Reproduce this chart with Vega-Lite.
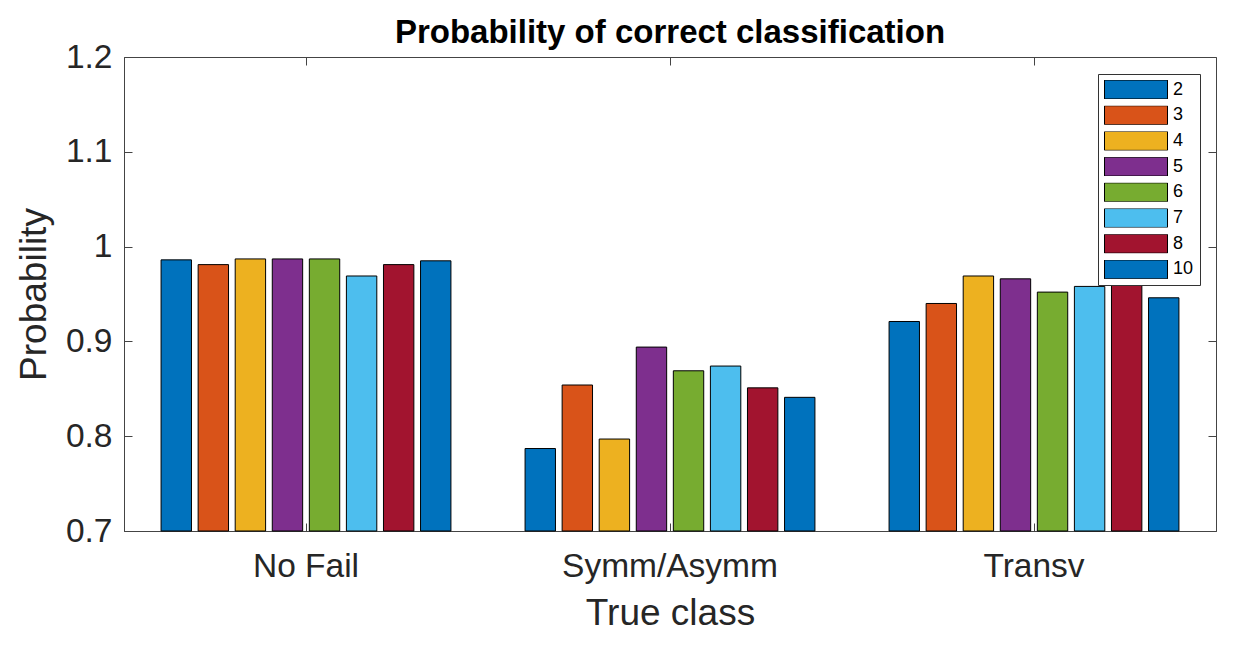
{
  "$schema": "https://vega.github.io/schema/vega-lite/v6.json",
  "width": 1092,
  "height": 474,
  "autosize": {"type": "none"},
  "padding": {"left": 124, "top": 57, "right": 17, "bottom": 123},
  "background": "#ffffff",
  "title": {"text": "Probability of correct classification", "fontSize": 33, "font": "Liberation Sans", "fontWeight": "bold", "color": "#000000", "offset": -10},
  "data": {"values": [
    {"class": "No Fail", "k": "2", "value": 0.986},
    {"class": "No Fail", "k": "3", "value": 0.981},
    {"class": "No Fail", "k": "4", "value": 0.987},
    {"class": "No Fail", "k": "5", "value": 0.987},
    {"class": "No Fail", "k": "6", "value": 0.987},
    {"class": "No Fail", "k": "7", "value": 0.969},
    {"class": "No Fail", "k": "8", "value": 0.981},
    {"class": "No Fail", "k": "10", "value": 0.985},
    {"class": "Symm/Asymm", "k": "2", "value": 0.787},
    {"class": "Symm/Asymm", "k": "3", "value": 0.854},
    {"class": "Symm/Asymm", "k": "4", "value": 0.797},
    {"class": "Symm/Asymm", "k": "5", "value": 0.894},
    {"class": "Symm/Asymm", "k": "6", "value": 0.869},
    {"class": "Symm/Asymm", "k": "7", "value": 0.874},
    {"class": "Symm/Asymm", "k": "8", "value": 0.851},
    {"class": "Symm/Asymm", "k": "10", "value": 0.841},
    {"class": "Transv", "k": "2", "value": 0.921},
    {"class": "Transv", "k": "3", "value": 0.940},
    {"class": "Transv", "k": "4", "value": 0.969},
    {"class": "Transv", "k": "5", "value": 0.966},
    {"class": "Transv", "k": "6", "value": 0.952},
    {"class": "Transv", "k": "7", "value": 0.958},
    {"class": "Transv", "k": "8", "value": 0.975},
    {"class": "Transv", "k": "10", "value": 0.946}
  ]},
  "layer": [
    {
      "mark": {"type": "bar", "stroke": "#000000", "strokeWidth": 1},
      "encoding": {
        "x": {"field": "class", "type": "nominal", "sort": ["No Fail", "Symm/Asymm", "Transv"], "title": "True class",
          "scale": {"paddingInner": 0, "paddingOuter": 0},
          "axis": {"labelAngle": 0, "labelLimit": 0, "tickSize": -8, "tickColor": "#444444", "domainColor": "#444444", "labelFontSize": 33.5, "labelFont": "Liberation Sans", "labelColor": "#262626", "labelPadding": 27, "titleFontSize": 37, "titleFont": "Liberation Sans", "titleFontWeight": "normal", "titleColor": "#262626", "titlePadding": 13}},
        "xOffset": {"field": "k", "type": "nominal", "sort": ["2", "3", "4", "5", "6", "7", "8", "10"], "scale": {"paddingInner": 0.18, "paddingOuter": 1.09}},
        "y": {"field": "value", "type": "quantitative", "stack": null, "title": "Probability",
          "scale": {"domain": [0.7, 1.2], "nice": false, "zero": false},
          "axis": {"values": [0.7, 0.8, 0.9, 1, 1.1, 1.2], "format": "~g", "grid": false, "tickSize": -8, "tickColor": "#444444", "domainColor": "#444444", "labelFontSize": 33.5, "labelFont": "Liberation Sans", "labelColor": "#262626", "labelPadding": 20, "titleFontSize": 37, "titleFont": "Liberation Sans", "titleFontWeight": "normal", "titleColor": "#262626", "titlePadding": 12}},
        "color": {"field": "k", "type": "nominal",
          "scale": {"domain": ["2", "3", "4", "5", "6", "7", "8", "10"], "range": ["#0072BD", "#D95319", "#EDB120", "#7E2F8E", "#77AC30", "#4DBEEE", "#A2142F", "#0072BD"]},
          "legend": {"orient": "none", "legendX": 974, "legendY": 17, "title": null, "symbolType": "M-1,-0.3L1,-0.3L1,0.3L-1,0.3Z", "symbolSize": 3969, "symbolStrokeColor": "#000000", "symbolStrokeWidth": 1, "symbolOpacity": 1, "clipHeight": 19, "rowPadding": 6.7, "labelFontSize": 18, "labelFont": "Liberation Sans", "labelColor": "#000000", "labelOffset": 5, "padding": 6, "strokeColor": "#333333", "fillColor": "#ffffff", "symbolOffset": 0}}
      }
    },
    {
      "mark": {"type": "point", "opacity": 0},
      "encoding": {
        "x": {"field": "class", "type": "nominal", "sort": ["No Fail", "Symm/Asymm", "Transv"],
          "axis": {"orient": "top", "labels": false, "title": null, "domain": false, "tickSize": -8, "tickColor": "#444444"}},
        "y": {"field": "value", "type": "quantitative",
          "axis": {"orient": "right", "labels": false, "title": null, "domain": false, "grid": false, "values": [0.7, 0.8, 0.9, 1, 1.1, 1.2], "tickSize": -8, "tickColor": "#444444"}}
      }
    }
  ],
  "resolve": {"axis": {"x": "independent", "y": "independent"}},
  "config": {"view": {"stroke": "#444444", "strokeWidth": 1}}
}
